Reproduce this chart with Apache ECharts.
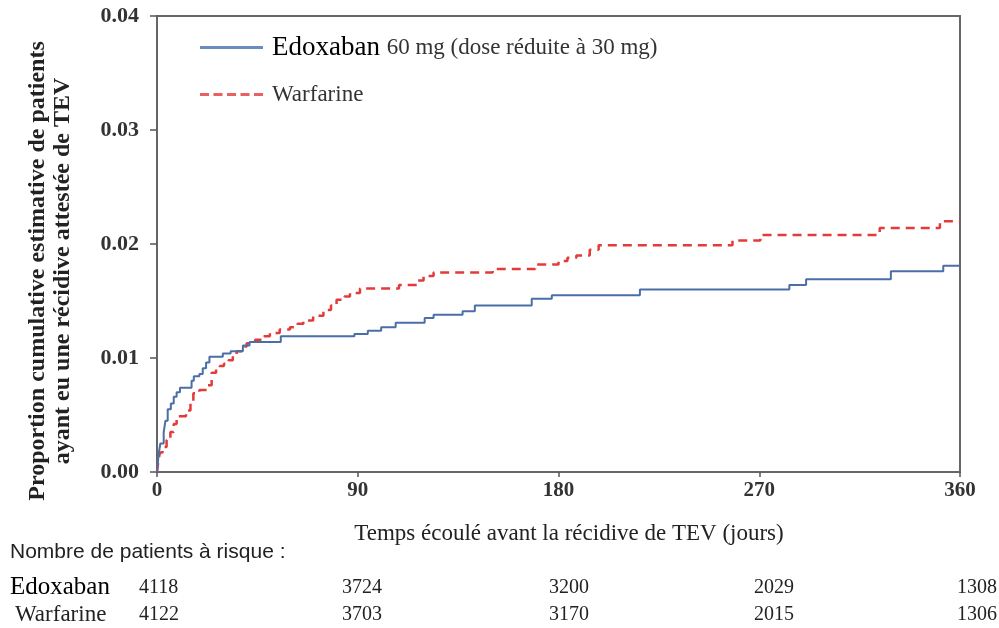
<!DOCTYPE html>
<html>
<head>
<meta charset="utf-8">
<script src="https://cdn.jsdelivr.net/npm/echarts@6/dist/echarts.min.js"></script>
<style>
html,body{margin:0;padding:0;background:#fff;}
#chart{width:999px;height:628px;}
</style>
</head>
<body>
<div id="chart"></div>
<script>
// ---- data ----
const seriesNames = ['Edoxaban', 'Warfarine'];
const edoxaban = [
  [0,0],[0.7,0.0015],[1.5,0.0025],[3,0.0035],[3.8,0.0045],[4.8,0.0055],[6.2,0.006],[7.5,0.0066],
  [8.8,0.007],[10.3,0.0074],[15.5,0.008],[16.5,0.0084],[19,0.0086],[20.5,0.0091],[22,0.0096],
  [23.5,0.0101],[29.5,0.0104],[33,0.0106],[38.5,0.0111],[41.5,0.0114],[55.5,0.0119],[88.5,0.0121],
  [94.5,0.0124],[100.5,0.0127],[107,0.0131],[120,0.0135],[124,0.0138],[137,0.0141],[142.5,0.0146],
  [168,0.0152],[177,0.0155],[216.5,0.016],[283.5,0.0164],[291,0.0169],[329,0.0176],[352.5,0.0181],
  [360,0.0181]
];
const warfarine = [
  [0,0],[0.5,0.0008],[1.3,0.0017],[2.5,0.0022],[4.3,0.0028],[6,0.0035],[7.5,0.0042],[8.8,0.0049],
  [13,0.0054],[15,0.006],[16.3,0.0069],[19,0.0072],[22.3,0.0076],[24.5,0.0087],[26.5,0.009],
  [28.2,0.0093],[30,0.0095],[32,0.0098],[34,0.0102],[35.7,0.0106],[38,0.011],[40.2,0.0113],
  [44,0.0116],[48,0.0119],[50.6,0.0122],[55,0.0125],[59.6,0.0127],[63,0.013],[65.6,0.0133],
  [70,0.0137],[74.6,0.0142],[78,0.0146],[80.5,0.0151],[84,0.0154],[86.5,0.0157],[91,0.0161],
  [108.5,0.0164],[117,0.0168],[119.5,0.0172],[124,0.0175],[150.5,0.0178],[169.5,0.0182],
  [180,0.0185],[184,0.0188],[188,0.019],[194,0.0195],[198,0.0199],[258,0.0203],[270.5,0.0208],
  [324,0.0214],[351,0.022],[360,0.022]
];
const xTicks = [0, 90, 180, 270, 360];
const yTicks = [0, 0.01, 0.02, 0.03, 0.04];
const riskTitle = 'Nombre de patients à risque :';
const riskEdoxaban = [4118, 3724, 3200, 2029, 1308];
const riskWarfarine = [4122, 3703, 3170, 2015, 1306];
const doseNote = '60 mg (dose réduite à 30 mg)';
const xTitle = 'Temps écoulé avant la récidive de TEV (jours)';
const yTitle = ['Proportion cumulative estimative de patients', 'ayant eu une récidive attestée de TEV'];

// ---- layout / style ----
const SERIF = '"Liberation Serif", "Times New Roman", serif';
const riskColX = [139, 342, 549, 754, 957];
const BLUE = '#4a6ea6';
const RED = '#e23b3a';

const chart = echarts.init(document.getElementById('chart'), null, {renderer: 'canvas'});

const graphics = [
  {type: 'text', left: 10, top: 542, style: {text: riskTitle, font: '21px "Liberation Sans", Arial, sans-serif', fill: '#222'}},
  {type: 'text', left: 10, top: 575, style: {text: seriesNames[0], font: '25px ' + SERIF, fill: '#000'}},
  {type: 'text', left: 15, top: 603, style: {text: seriesNames[1], font: '23px ' + SERIF, fill: '#222'}},
  {
    type: 'text', x: 50, y: 271, rotation: Math.PI / 2,
    style: {text: yTitle.join('\n'), font: 'bold 24px ' + SERIF, fill: '#222', align: 'center', verticalAlign: 'middle', lineHeight: 25}
  },
  {type: 'text', x: 569, y: 534, style: {text: xTitle, font: '23px ' + SERIF, fill: '#222', align: 'center', verticalAlign: 'middle'}}
];
riskEdoxaban.forEach((v, i) => graphics.push({type: 'text', left: riskColX[i], top: 578, style: {text: String(v), font: '20px ' + SERIF, fill: '#222'}}));
riskWarfarine.forEach((v, i) => graphics.push({type: 'text', left: riskColX[i], top: 605, style: {text: String(v), font: '20px ' + SERIF, fill: '#222'}}));

chart.setOption({
  animation: false,
  backgroundColor: '#fff',
  grid: {left: 157, right: 39, top: 16, bottom: 156, show: true, borderColor: '#666', borderWidth: 2},
  legend: {
    orient: 'vertical', left: 195, top: 29, itemWidth: 63, itemHeight: 3, itemGap: 22,
    data: [
      {name: seriesNames[0], icon: 'path://M0,0H63V3H0Z', itemStyle: {color: '#6a8cbf'}},
      {name: seriesNames[1], icon: 'path://M0,0h9v3h-9z M13.5,0h9v3h-9z M27,0h9v3h-9z M40.5,0h9v3h-9z M54,0h9v3h-9z', itemStyle: {color: '#e86060'}}
    ],
    formatter: function (name) {
      return name === seriesNames[0] ? '{a|' + name + '}  {b|' + doseNote + '}' : '{b|' + name + '}';
    },
    textStyle: {
      padding: [0, 0, 0, 4],
      rich: {
        a: {fontSize: 27, fontFamily: SERIF, color: '#000', lineHeight: 28},
        b: {fontSize: 23, fontFamily: SERIF, color: '#333', lineHeight: 28}
      }
    }
  },
  xAxis: {
    type: 'value', min: 0, max: 360, interval: 90,
    axisLine: {show: true, lineStyle: {color: '#666', width: 2}},
    axisTick: {show: true, inside: false, length: 5, lineStyle: {color: '#555', width: 1.5}},
    splitLine: {show: false},
    axisLabel: {margin: 8, fontSize: 21, fontWeight: 'bold', fontFamily: SERIF, color: '#333'}
  },
  yAxis: {
    type: 'value', min: 0, max: 0.04, interval: 0.01,
    axisLine: {show: true, lineStyle: {color: '#666', width: 2}},
    axisTick: {show: true, inside: false, length: 7, lineStyle: {color: '#555', width: 1.5}},
    splitLine: {show: false},
    axisLabel: {margin: 18, fontSize: 22, fontWeight: 'bold', fontFamily: SERIF, color: '#333', formatter: v => v.toFixed(2)}
  },
  series: [
    {
      name: seriesNames[0], type: 'line', step: 'end', data: edoxaban, symbol: 'none',
      lineStyle: {color: BLUE, width: 2}, itemStyle: {color: BLUE}, z: 3
    },
    {
      name: seriesNames[1], type: 'line', step: 'end', data: warfarine, symbol: 'none',
      lineStyle: {color: RED, width: 2.5, type: [9, 6]}, itemStyle: {color: RED}, z: 2
    }
  ],
  graphic: graphics
});
</script>
</body>
</html>
